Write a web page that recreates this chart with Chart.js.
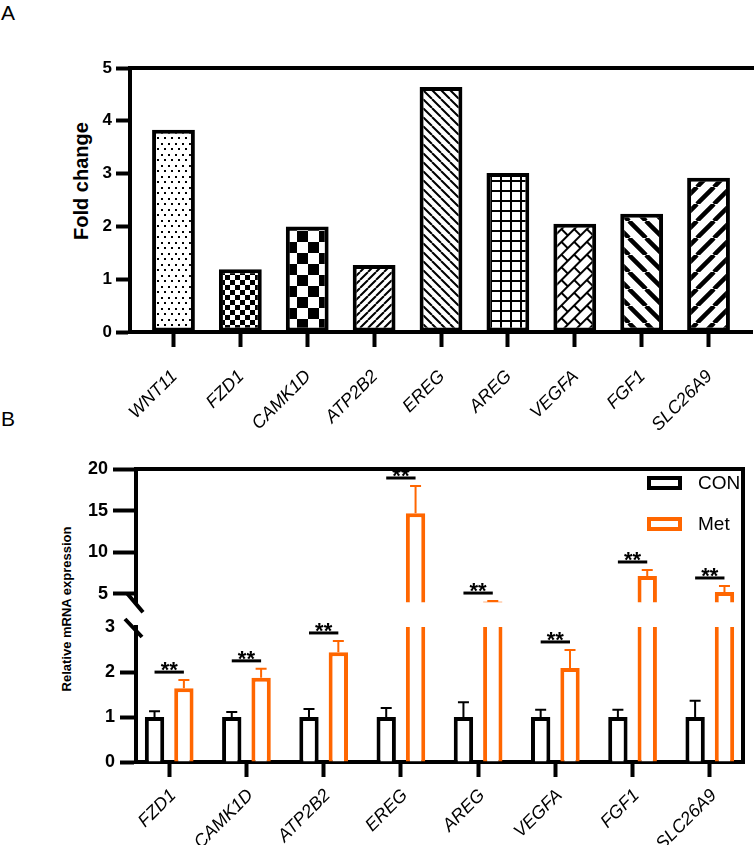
<!DOCTYPE html>
<html><head><meta charset="utf-8">
<script src="https://cdn.jsdelivr.net/npm/chart.js@4.4.0/dist/chart.umd.min.js"></script>
<style>
html,body{margin:0;padding:0;background:#fff;}
body{width:756px;height:845px;position:relative;overflow:hidden;font-family:"Liberation Sans",Arial,sans-serif;}
canvas{position:absolute;left:0;}
.lbl{position:absolute;color:#000;white-space:nowrap;line-height:1;}
.rot{transform:translate(-50%,-50%) rotate(-90deg);font-weight:bold;}
</style></head><body>
<div class="lbl" style="left:1px;top:2px;font-size:21px;">A</div>
<div class="lbl" style="left:1px;top:408px;font-size:21px;">B</div>
<div class="lbl rot" style="left:81px;top:181px;font-size:20px;">Fold change</div>
<div class="lbl rot" style="left:66px;top:609px;font-size:13px;">Relative mRNA expression</div>
<canvas id="cA" width="756" height="440" style="top:0px"></canvas>
<canvas id="cBu" width="756" height="200" style="top:440px"></canvas>
<canvas id="cBl" width="756" height="245" style="top:600px"></canvas>
<script>
// ---------- data ----------
const panelAGenes = ['WNT11','FZD1','CAMK1D','ATP2B2','EREG','AREG','VEGFA','FGF1','SLC26A9'];
const foldChange  = [3.83, 1.19, 2.00, 1.27, 4.64, 3.01, 2.05, 2.24, 2.92];
const foldTicks   = [0, 1, 2, 3, 4, 5];

const panelBGenes = ['FZD1','CAMK1D','ATP2B2','EREG','AREG','VEGFA','FGF1','SLC26A9'];
const conMean = [1, 1, 1, 1, 1, 1, 1, 1];
const conErr  = [0.13, 0.11, 0.18, 0.20, 0.33, 0.16, 0.16, 0.36];
const metMean = [1.64, 1.87, 2.44, 14.7, 4.10, 2.09, 7.16, 5.24];
const metErr  = [0.18, 0.20, 0.25, 3.26, 0.05, 0.40, 0.72, 0.72];
const significance = ['**','**','**','**','**','**','**','**'];
const upperTicks = [5, 10, 15, 20];
const lowerTicks = [0, 1, 2, 3];
const seriesNames = ['CON', 'Met'];

// ---------- styles ----------
const ORANGE = '#FF6600';
const FONT = '"Liberation Sans", Arial, sans-serif';
Chart.defaults.font.family = FONT;
Chart.defaults.color = '#000';

const patternKinds = ['dots','checkSmall','checkBig','fwdThin','backThin','grid','brick','backWide','fwdWide'];
function makePattern(kind){
  const sizes = {dots:[7,11], checkSmall:[10,10], checkBig:[22,22], fwdThin:[8,8], backThin:[9,9],
                 grid:[10,10], brick:[18,18], backWide:[17,17], fwdWide:[17,17]};
  const [w,h] = sizes[kind];
  const c = document.createElement('canvas'); c.width = w; c.height = h;
  const g = c.getContext('2d');
  g.fillStyle = '#fff'; g.fillRect(0,0,w,h);
  g.fillStyle = '#000'; g.strokeStyle = '#000';
  const diag = (dir, lw) => {
    g.lineWidth = lw; g.beginPath();
    for (let k = -1; k <= 1; k++) {
      if (dir > 0) { g.moveTo(k*w, h); g.lineTo(k*w + w, 0); }
      else { g.moveTo(k*w, 0); g.lineTo(k*w + w, h); }
    }
    g.stroke();
  };
  let rotate = false;
  switch (kind) {
    case 'dots': g.fillRect(0,0,2,2); g.fillRect(3,5,2,2); break;
    case 'checkSmall': g.fillRect(0,0,5,5); g.fillRect(5,5,5,5); break;
    case 'checkBig': g.fillRect(0,0,11,11); g.fillRect(11,11,11,11); break;
    case 'fwdThin': diag(1, 2); break;
    case 'backThin': diag(-1, 2); break;
    case 'grid': g.fillRect(0,0,w,2); g.fillRect(0,0,2,h); break;
    case 'brick':
      g.fillRect(0,0,w,2); g.fillRect(0,9,w,2);
      g.fillRect(0,0,2,10); g.fillRect(9,9,2,9);
      rotate = true; break;
    case 'backWide': diag(-1, 4.5); break;
    case 'fwdWide': diag(1, 4.5); break;
  }
  const p = document.getElementById('cA').getContext('2d').createPattern(c, 'repeat');
  if (rotate) p.setTransform(new DOMMatrix().rotateSelf(-45));
  return p;
}

const axisGrid = (len) => ({display:true, offset:false, drawOnChartArea:false, drawTicks:true, tickLength:len, tickWidth:4, tickColor:'#000'});
const axisBorder = {display:true, width:4, color:'#000'};

// ---------- Panel A ----------
const frameA = {
  id:'frameA',
  afterDraw(chart){
    const {ctx, chartArea:a} = chart;
    ctx.save(); ctx.strokeStyle = '#000'; ctx.lineWidth = 4;
    ctx.beginPath(); ctx.moveTo(a.left - 2, a.top); ctx.lineTo(a.right + 2, a.top); ctx.stroke();
    ctx.restore();
  }
};
const padA = 0.65;
new Chart(document.getElementById('cA'), {
  type:'bar',
  data:{ datasets:[{
    data: foldChange.map((v,i) => ({x:i, y:v})),
    backgroundColor: patternKinds.map(makePattern),
    borderColor:'#000', borderWidth:4, borderSkipped:false,
    barPercentage:0.8, categoryPercentage:0.8
  }]},
  options:{
    responsive:false, animation:false, devicePixelRatio:1,
    layout:{padding:{top:68, right:4, left:0, bottom:0}},
    plugins:{legend:{display:false}, tooltip:{enabled:false}},
    scales:{
      x:{ type:'linear', offset:false, min:-padA, max:panelAGenes.length - 1 + padA,
        afterBuildTicks: s => { s.ticks = panelAGenes.map((_,i) => ({value:i})); },
        afterFit: s => { s.height = 108; },
        ticks:{ callback: v => panelAGenes[v] ?? '', autoSkip:false, minRotation:45, maxRotation:45,
                font:{size:18, style:'italic'}, color:'#000', padding:19, labelOffset:1 },
        grid: axisGrid(15), border: axisBorder },
      y:{ min:0, max:5,
        afterBuildTicks: s => { s.ticks = foldTicks.map(v => ({value:v})); },
        afterFit: s => { s.width = 130; },
        ticks:{ font:{size:17, weight:'bold'}, color:'#000', padding:4 },
        grid: axisGrid(14), border: axisBorder }
    }
  },
  plugins:[frameA]
});

// ---------- Panel B ----------
const padB = 0.43;
function datasetsB(){
  return [
    {label:seriesNames[0], data: conMean.map((v,i) => ({x:i, y:v})), errors: conErr,
     backgroundColor:'#fff', borderColor:'#000', borderWidth:4, barPercentage:0.66, categoryPercentage:0.76, clip:0},
    {label:seriesNames[1], data: metMean.map((v,i) => ({x:i, y:v})), errors: metErr,
     backgroundColor:'#fff', borderColor:ORANGE, borderWidth:4, barPercentage:0.66, categoryPercentage:0.76, clip:0}
  ];
}
function xAxisB(show){
  return { type:'linear', offset:false, display:show, min:-padB, max:panelBGenes.length - 1 + padB,
    afterBuildTicks: s => { s.ticks = panelBGenes.map((_,i) => ({value:i})); },
    afterFit: s => { if (show) s.height = 83; },
    ticks:{ callback: v => panelBGenes[v] ?? '', autoSkip:false, minRotation:45, maxRotation:45,
            font:{size:18, style:'italic'}, color:'#000', padding:8, labelOffset:4 },
    grid: axisGrid(15), border: axisBorder };
}
const errorBars = {
  id:'errorBars',
  afterDatasetsDraw(chart){
    const {ctx, chartArea:a, scales:{y}} = chart;
    ctx.save();
    ctx.beginPath(); ctx.rect(a.left, a.top - 2, a.right - a.left, a.bottom - a.top + 2); ctx.clip();
    chart.data.datasets.forEach((ds, di) => {
      const meta = chart.getDatasetMeta(di);
      ctx.strokeStyle = ds.borderColor; ctx.lineWidth = 2;
      meta.data.forEach((el, i) => {
        const v = ds.data[i].y, e = ds.errors[i];
        const y0 = y.getPixelForValue(v), y1 = y.getPixelForValue(v + e);
        ctx.beginPath();
        ctx.moveTo(el.x, y0); ctx.lineTo(el.x, y1);
        ctx.moveTo(el.x - 5.5, y1); ctx.lineTo(el.x + 5.5, y1);
        ctx.stroke();
      });
    });
    ctx.restore();
  }
};
const sigMarks = {
  id:'sigMarks',
  afterDatasetsDraw(chart){
    const {ctx, scales:{y}} = chart;
    const c = chart.getDatasetMeta(0).data, m = chart.getDatasetMeta(1).data;
    significance.forEach((s, i) => {
      const top = Math.max(conMean[i] + conErr[i], metMean[i] + metErr[i]);
      if (top < y.min || top > y.max) return;
      const ly = y.getPixelForValue(top) - 8;
      ctx.save();
      ctx.strokeStyle = '#000'; ctx.lineWidth = 3;
      ctx.beginPath(); ctx.moveTo(c[i].x, ly); ctx.lineTo(m[i].x, ly); ctx.stroke();
      ctx.font = 'bold 22px ' + FONT; ctx.textAlign = 'center'; ctx.textBaseline = 'alphabetic';
      ctx.fillStyle = '#000'; ctx.fillText(s, (c[i].x + m[i].x) / 2, ly + 5);
      ctx.restore();
    });
  }
};
const frameUpper = {
  id:'frameUpper',
  afterDraw(chart){
    const {ctx, chartArea:a} = chart;
    ctx.save(); ctx.strokeStyle = '#000'; ctx.lineWidth = 4;
    ctx.beginPath();
    ctx.moveTo(a.left - 2, a.top); ctx.lineTo(a.right + 2, a.top);
    ctx.moveTo(a.right, a.top); ctx.lineTo(a.right, chart.height);
    ctx.moveTo(a.left - 9, a.bottom - 9); ctx.lineTo(a.left + 7, a.bottom + 10);
    ctx.stroke();
    // legend
    chart.data.datasets.forEach((ds, k) => {
      const bx = a.right - 96, by = a.top + 7 + k * 41;
      ctx.lineWidth = 4; ctx.strokeStyle = ds.borderColor;
      ctx.strokeRect(bx + 2, by + 2, 31, 10);
      ctx.fillStyle = '#000'; ctx.font = '19px ' + FONT;
      ctx.textAlign = 'left'; ctx.textBaseline = 'middle';
      ctx.fillText(ds.label, bx + 51, by + 8);
    });
    ctx.restore();
  }
};
const frameLower = {
  id:'frameLower',
  afterDraw(chart){
    const {ctx, chartArea:a} = chart;
    ctx.save(); ctx.strokeStyle = '#000'; ctx.lineWidth = 4;
    ctx.beginPath();
    ctx.moveTo(a.right, 0); ctx.lineTo(a.right, a.bottom + 2);
    ctx.moveTo(a.left - 11, a.top - 8); ctx.lineTo(a.left + 6, a.top + 10);
    ctx.stroke();
    ctx.restore();
  }
};

new Chart(document.getElementById('cBu'), {
  type:'bar',
  data:{ datasets: datasetsB() },
  options:{
    responsive:false, animation:false, devicePixelRatio:1,
    layout:{padding:{top:29, right:13, left:0, bottom:37.7}},
    plugins:{legend:{display:false}, tooltip:{enabled:false}},
    scales:{
      x: xAxisB(false),
      y:{ min:4, max:20,
        afterBuildTicks: s => { s.ticks = upperTicks.map(v => ({value:v})); },
        afterFit: s => { s.width = 136; },
        ticks:{ font:{size:18, weight:'bold'}, color:'#000', padding:5 },
        grid: axisGrid(23), border: axisBorder }
    }
  },
  plugins:[errorBars, sigMarks, frameUpper]
});

new Chart(document.getElementById('cBl'), {
  type:'bar',
  data:{ datasets: datasetsB() },
  options:{
    responsive:false, animation:false, devicePixelRatio:1,
    layout:{padding:{top:27, right:13, left:0, bottom:0}},
    plugins:{legend:{display:false}, tooltip:{enabled:false}},
    scales:{
      x: xAxisB(true),
      y:{ min:0, max:3,
        afterBuildTicks: s => { s.ticks = lowerTicks.map(v => ({value:v})); },
        afterFit: s => { s.width = 136; },
        ticks:{ font:{size:18, weight:'bold'}, color:'#000', padding:5 },
        grid: Object.assign(axisGrid(16), {
          tickColor: c => (c.index === c.scale.ticks.length - 1 ? 'rgba(0,0,0,0)' : '#000')
        }),
        border: axisBorder }
    }
  },
  plugins:[errorBars, sigMarks, frameLower]
});
</script>
</body></html>
